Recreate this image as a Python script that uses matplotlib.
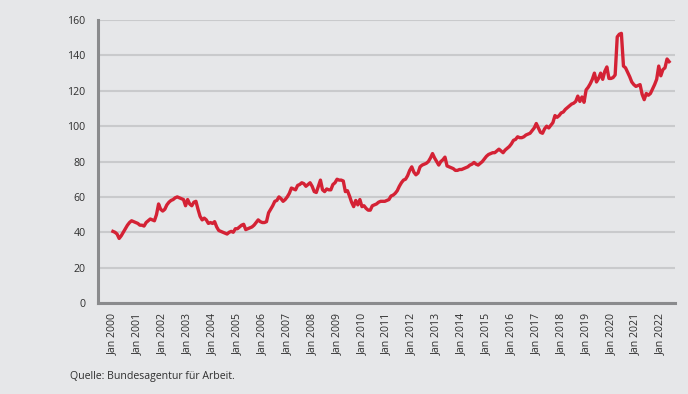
import matplotlib.pyplot as plt
import numpy as np

BG = "#E6E7E9"
RED = "#D42235"
GRID = "#C9CACC"
SPINE = "#8A8B8D"
TXT = "#2E2E2E"

plt.rcParams["font.family"] = ["Open Sans", "DejaVu Sans"]

# monthly values, Jan 2000 .. May 2022
v2000 = [40.5, 40, 39, 36.5, 38, 40, 42, 44, 45.5, 46.5, 46, 45.5]
v2001 = [45, 44, 44, 43.5, 45.5, 46.5, 47.5, 47, 46.5, 50, 56, 53]
v2002 = [52, 53, 55.5, 57, 58, 58.5, 59.5, 60, 59.5, 59, 58.5, 55]
v2003 = [58.5, 56, 55, 57, 57.5, 53, 49, 47, 48, 47, 45, 45.5]
v2004 = [45, 46, 43, 41, 40.5, 40, 39.5, 39, 40, 40.5, 40, 42]
v2005 = [42, 43, 44, 44.5, 41.5, 42, 42.5, 43, 44, 45.5, 47, 46]
v2006 = [45.5, 45.5, 46, 51, 53, 55, 57.5, 58, 60, 59, 57.5, 58.5]
v2007 = [60, 62, 65, 64.5, 64, 66.5, 67, 68, 67.5, 66, 67, 68]
v2008 = [66, 63, 62.5, 66, 69.5, 64, 63, 64.5, 64, 64, 67, 68]
v2009 = [70, 69.5, 69.5, 69, 63, 63.5, 60.5, 57, 54.5, 58, 55.5, 58.5]
v2010 = [54.5, 55, 53.5, 52.5, 52.5, 55, 55.5, 56, 57, 57.5, 57.5, 57.5]
v2011 = [58, 58.5, 60.5, 61, 62, 63.5, 66, 68, 69.5, 70, 72, 75]
v2012 = [77, 74, 72.5, 73.5, 77, 78, 78.5, 79, 80, 82, 84.5, 82]
v2013 = [80, 78, 80, 81, 82.5, 77.5, 77, 76.5, 76, 75, 75, 75.5]
v2014 = [75.5, 76, 76.5, 77, 78, 78.5, 79.5, 78.5, 78, 79, 80, 81.5]
v2015 = [83, 84, 84.5, 85, 85, 86, 87, 86, 85, 86.5, 87.5, 88.5]
v2016 = [90, 92, 92.5, 94, 93.5, 93.5, 94, 95, 95.5, 96, 97.5, 99]
v2017 = [101.5, 99, 96.5, 96, 98.5, 100, 99, 100.5, 102, 106, 105, 106]
v2018 = [107.5, 108, 109.5, 110.5, 111.5, 112.5, 113, 114, 117, 114, 116.5, 113.5]
v2019 = [120.5, 122, 124, 126.5, 130, 125, 127, 130, 126.5, 131, 133.5, 127]
v2020 = [127, 127.5, 129, 150.5, 152, 152.5, 134, 133, 130.5, 128, 125, 123.5]
v2021 = [122.5, 123, 123.5, 118, 115, 118.5, 117.5, 118.5, 121, 123.5, 126.5, 134]
v2022 = [128.5, 132, 133, 138, 136.5]

values = (v2000 + v2001 + v2002 + v2003 + v2004 + v2005 + v2006 + v2007
          + v2008 + v2009 + v2010 + v2011 + v2012 + v2013 + v2014 + v2015
          + v2016 + v2017 + v2018 + v2019 + v2020 + v2021 + v2022)
years = list(range(2000, 2023))
tick_labels = [f"Jan {y}" for y in years]
y_ticks = [0, 20, 40, 60, 80, 100, 120, 140, 160]

fig = plt.figure(figsize=(6.88, 3.94), dpi=100)
fig.patch.set_facecolor(BG)
ax = fig.add_axes([0.1424, 0.231, 0.8386, 0.718])
ax.set_facecolor(BG)

months = np.arange(len(values))
ax.plot(months, values, color=RED, lw=2.4, solid_joinstyle="round", zorder=3)

ax.set_xlim(-7.2, 270.8)
ax.set_ylim(0, 160)
ax.set_yticks(y_ticks)
ax.set_xticks([12 * i for i in range(len(years))])
ax.set_xticklabels(tick_labels, rotation=90, va="top", ha="center")
ax.tick_params(axis="both", length=0, labelsize=7.6, colors=TXT)
ax.tick_params(axis="x", pad=7)
ax.tick_params(axis="y", pad=9)

ax.yaxis.grid(True, color=GRID, lw=1.5, zorder=1)
ax.set_axisbelow(True)
for s in ["top", "right"]:
    ax.spines[s].set_visible(False)
for s in ["left", "bottom"]:
    ax.spines[s].set_color(SPINE)
    ax.spines[s].set_linewidth(2.2)

fig.text(70 / 688, 1 - 377 / 394, "Quelle: Bundesagentur für Arbeit.",
         fontsize=7.6, color=TXT, ha="left", va="center")

fig.savefig("out.png", dpi=100, facecolor=BG)
